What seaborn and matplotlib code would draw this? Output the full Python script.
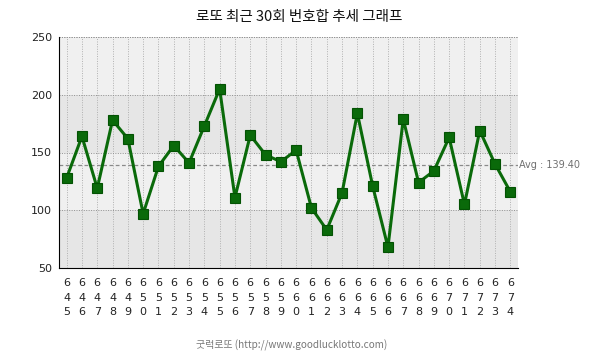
import pandas as pd
import matplotlib.pyplot as plt
import seaborn as sns

# Data
draws = list(range(645, 675))
sums = [128, 164, 119, 178, 162, 97, 138, 156, 141, 173,
        205, 111, 165, 148, 142, 152, 102, 83, 115, 184,
        121, 68, 179, 124, 134, 163, 105, 169, 140, 116]
y_ticks = [50, 100, 150, 200, 250]
title = "로또 최근 30회 번호합 추세 그래프"
footer = "굿럭로또 (http://www.goodlucklotto.com)"

df = pd.DataFrame({"idx": range(len(draws)), "draw": draws, "total": sums})
avg = df["total"].mean()

sns.set_theme(style="white")
plt.rcParams['font.family'] = ['Noto Sans CJK KR', 'DejaVu Sans']

fig = plt.figure(figsize=(6.05, 3.59), dpi=100)
ax = fig.add_axes([59 / 605, 1 - 268 / 359, (518 - 59) / 605, (268 - 37) / 359])

# alternating background bands
band_cols = ["#e6e6e6", "#f0f0f0"]
for i in range(len(y_ticks) - 1):
    ax.axhspan(y_ticks[i], y_ticks[i + 1], color=band_cols[i % 2], zorder=0, lw=0)

# grid
for x in df["idx"]:
    ax.axvline(x, color="#b0b0b0", lw=0.7, ls=(0, (1, 1.5)), zorder=1)
ax.axvline(29.5, color="#b0b0b0", lw=0.7, ls=(0, (1, 1.5)), zorder=1)
for y in y_ticks[1:]:
    ax.axhline(y, color="#909090", lw=0.7, ls=(0, (1, 1.5)), zorder=1)

# average line
ax.axhline(avg, color="#8a8a8a", lw=0.9, ls=(0, (3, 2)), zorder=2)
ax.text(29.55, avg, f"Avg : {avg:.2f}", fontsize=7, color="#707070",
        va="center", ha="left", family="DejaVu Sans")

sns.lineplot(data=df, x="idx", y="total", color="#0a6a0a", lw=2.2,
             marker="s", markersize=7.5, markeredgecolor="#035203",
             markeredgewidth=0.8, ax=ax, zorder=3)

ax.set_xlim(-0.5, 29.5)
ax.set_ylim(50, 250)
ax.set_yticks(y_ticks)
ax.set_yticklabels([str(v) for v in y_ticks], fontsize=8, color="#222222",
                   family="DejaVu Sans")
ax.set_xticks(df["idx"])
ax.set_xticklabels(["\n".join(str(d)) for d in draws], fontsize=8,
                   color="#222222", linespacing=1.6, family="DejaVu Sans")
ax.tick_params(axis="both", direction="out", length=4, width=0.8, color="black", pad=3)
ax.tick_params(axis="y", pad=1)
ax.set_xlabel("")
ax.set_ylabel("")

for s in ["top", "right"]:
    ax.spines[s].set_visible(False)
for s in ["left", "bottom"]:
    ax.spines[s].set_color("black")
    ax.spines[s].set_linewidth(0.8)
ax.axhline(250, color="#909090", lw=0.7, ls=(0, (1, 1.5)), zorder=1, clip_on=False)

fig.text(0.495, 1 - 17 / 359, title, ha="center", va="center", fontsize=10.5, color="#111111")
fig.text(0.482, 1 - 345 / 359, footer, ha="center", va="center", fontsize=7.2, color="#777777")

plt.savefig("out.png", dpi=100)
